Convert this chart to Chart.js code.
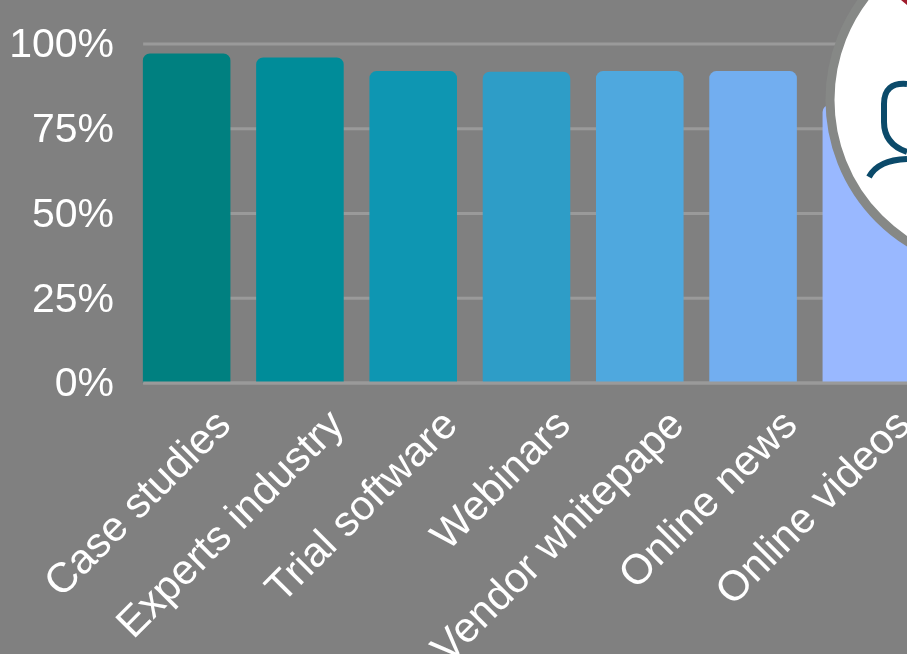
<!DOCTYPE html>
<html>
<head>
<meta charset="utf-8">
<script src="https://cdn.jsdelivr.net/npm/chart.js@4"></script>
<style>
    html, body { margin: 0; width: 907px; height: 654px; overflow: hidden; background: #808080; }
    #chart { position: absolute; left: 0; top: 0; }
    #badge { position: absolute; left: 0; top: 0; }
</style>
</head>
<body>
<canvas id="chart" width="923" height="654"></canvas>
<svg id="badge" width="907" height="654">
    <circle cx="998" cy="100" r="168" fill="#fff" stroke="#868886" stroke-width="9"/>
    <path d="M901 0 L907 5 L907 0 Z" fill="#a01c2c"/>
    <path d="M907 84 Q884 82 884 104 L884 122 Q884 144 907 152" fill="none" stroke="#0b4a6a" stroke-width="6"/>
    <path d="M869 177 Q878 160 907 159" fill="none" stroke="#0b4a6a" stroke-width="6"/>
</svg>
<script>
const categories = ["Case studies", "Experts industry", "Trial software", "Webinars", "Vendor whitepape", "Online news", "Online videos"];
const values = [97.2, 96, 92, 91.8, 92, 92, 82];
const barColors = ["#008080", "#008c99", "#0e96b2", "#2e9dc7", "#4fa8de", "#72aef0", "#99b8ff"];
const yTicks = [0, 25, 50, 75, 100];

const textFont = { family: "'Liberation Sans', Arial, sans-serif", size: 41 };

function hline(chart, value) {
    let y = chart.scales.y, x = chart.scales.x;
    let ctx = chart.ctx;
    ctx.save();
    ctx.strokeStyle = "#9a9a9a";
    ctx.lineWidth = 3;
    ctx.beginPath();
    ctx.moveTo(x.getPixelForValue(0) - 43.5, y.getPixelForValue(value));
    ctx.lineTo(chart.width, y.getPixelForValue(value));
    ctx.stroke();
    ctx.restore();
}

// gridlines start at the first bar, not at the band edge, so they are drawn here
const gridPlugin = {
    id: "grid",
    beforeDatasetsDraw(chart) {
        yTicks.forEach((t) => hline(chart, t));
    },
    afterDatasetsDraw(chart) {
        hline(chart, 0);
    }
};

new Chart(document.getElementById("chart"), {
    type: "bar",
    data: {
        labels: categories,
        datasets: [{
            data: values,
            backgroundColor: barColors,
            borderRadius: { topLeft: 7, topRight: 7 },
            borderSkipped: "bottom",
            barPercentage: 1,
            categoryPercentage: 0.773
        }]
    },
    plugins: [gridPlugin],
    options: {
        responsive: false,
        animation: false,
        layout: { padding: { top: 44, left: 0, right: 0, bottom: 0 } },
        plugins: { legend: { display: false }, tooltip: { enabled: false } },
        scales: {
            x: {
                afterFit(scale) {
                    scale.height = 271;
                    scale.paddingLeft = 0;
                    scale.paddingRight = 0;
                },
                grid: { display: false },
                border: { display: false },
                ticks: {
                    color: "#fff",
                    font: { family: textFont.family, size: 42 },
                    autoSkip: false,
                    minRotation: 45,
                    maxRotation: 45,
                    labelOffset: 38,
                    padding: 10
                }
            },
            y: {
                min: 0,
                max: 100,
                afterFit(scale) { scale.width = 130; },
                grid: { display: false },
                border: { display: false },
                afterBuildTicks(scale) { scale.ticks = yTicks.map((v) => ({ value: v })); },
                ticks: {
                    color: "#fff",
                    font: textFont,
                    padding: 8,
                    labelOffset: 2,
                    callback: (v) => v + "%"
                }
            }
        }
    }
});
</script>
</body>
</html>
